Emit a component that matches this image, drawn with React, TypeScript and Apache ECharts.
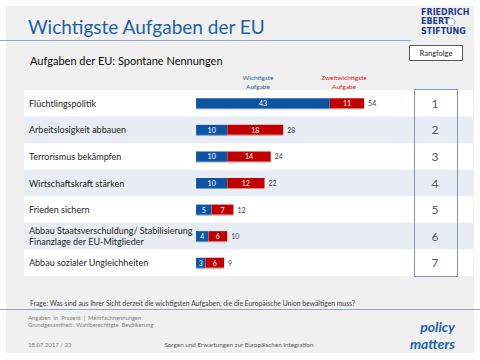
import React, { useEffect, useRef } from "react";
import * as echarts from "echarts";

const categories = [
  "Flüchtlingspolitik",
  "Arbeitslosigkeit abbauen",
  "Terrorismus bekämpfen",
  "Wirtschaftskraft stärken",
  "Frieden sichern",
  "Abbau Staatsverschuldung/ Stabilisierung\nFinanzlage der EU-Mitglieder",
  "Abbau sozialer Ungleichheiten",
];
const wichtigste = [43, 10, 10, 10, 5, 4, 3];
const zweitwichtigste = [11, 18, 14, 12, 7, 6, 6];
const gesamt = [54, 28, 24, 22, 12, 10, 9];
const rangfolge = ["1", "2", "3", "4", "5", "6", "7"];

const FONT = "Lato, 'Open Sans', sans-serif";
const LOGO_FONT = "'DejaVu Sans', sans-serif";

export default function App() {
  const ref = useRef<HTMLDivElement>(null);
  useEffect(() => {
    const chart = echarts.init(ref.current!, null, { renderer: "svg" });
    const blue = "#0f55a3";
    const red = "#c00000";
    chart.setOption({
      animation: false,
      textStyle: { fontFamily: FONT },
      grid: { left: 24, top: 90, width: 449, height: 186 },
      xAxis: { type: "value", min: -55.3, max: 89.0, show: false },
      yAxis: [
        {
          type: "category",
          data: categories,
          inverse: true,
          axisLine: { show: false },
          axisTick: { show: false },
          splitArea: { show: true, areaStyle: { color: ["#ffffff", "#e8edf5"] } },
          axisLabel: {
            align: "left",
            margin: -5,
            color: "#262626",
            fontSize: 9,
            lineHeight: 11,
            fontFamily: FONT,
          },
        },
        {
          type: "category",
          data: rangfolge,
          inverse: true,
          position: "right",
          axisLine: { show: false },
          axisTick: { show: false },
          axisLabel: {
            align: "center",
            margin: -38,
            color: "#595959",
            fontSize: 12,
            fontFamily: FONT,
          },
        },
      ],
      series: [
        {
          type: "bar",
          name: "Wichtigste Aufgabe",
          stack: "a",
          data: wichtigste,
          barWidth: 10,
          itemStyle: { color: blue, shadowColor: "#6f9ad3", shadowOffsetY: 1, shadowBlur: 0 },
          label: { show: true, position: "inside", color: "#ffffff", fontSize: 7, fontFamily: FONT },
          silent: true,
        },
        {
          type: "bar",
          name: "Zweitwichtigste Aufgabe",
          stack: "a",
          data: zweitwichtigste,
          barWidth: 10,
          itemStyle: { color: red, shadowColor: "#e58a8a", shadowOffsetY: 1, shadowBlur: 0 },
          label: { show: true, position: "inside", color: "#ffffff", fontSize: 7, fontFamily: FONT },
          silent: true,
        },
        {
          type: "bar",
          name: "Gesamt",
          data: gesamt,
          barWidth: 10,
          barGap: "-100%",
          itemStyle: { color: "rgba(0,0,0,0)" },
          label: { show: true, position: "right", distance: 4, color: "#404040", fontSize: 7, fontFamily: FONT },
          silent: true,
        },
      ],
      graphic: [
        // title
        {
          type: "text", left: 28, top: 17, z: 100,
          style: { text: "Wichtigste Aufgaben der EU", fill: "#1f5fa9", font: `19px ${FONT}` },
        },
        { type: "line", z: 100, shape: { x1: 0, y1: 40.5, x2: 411, y2: 40.5 }, style: { stroke: "#8ea4c8", lineWidth: 1 } },
        { type: "line", z: 100, shape: { x1: 0, y1: 309.5, x2: 480, y2: 309.5 }, style: { stroke: "#8ea4c8", lineWidth: 1 } },
        // FES logo
        {
          type: "text", left: 421, top: 8, z: 100,
          style: {
            text: "FRIEDRICH\nEBERT\nSTIFTUNG",
            fill: "#1b3d8f",
            font: `bold 8px ${LOGO_FONT}`,
            lineHeight: 9.3,
          },
        },
        {
          type: "circle", z: 99, shape: { cx: 451, cy: 22, r: 4 },
          style: { fill: "#ffffff", stroke: "#8fb0d8", lineWidth: 1 },
        },
        // subtitle
        {
          type: "text", left: 30, top: 55, z: 100,
          style: { text: "Aufgaben der EU: Spontane Nennungen", fill: "#0d0d0d", font: `11px ${FONT}` },
        },
        // Rangfolge button
        {
          type: "rect", z: 100, shape: { x: 409.5, y: 45.5, width: 53, height: 15 },
          style: { fill: "#ffffff", stroke: "#595959", lineWidth: 1 },
        },
        {
          type: "text", z: 101, x: 436, y: 53,
          style: { text: "Rangfolge", fill: "#262626", font: `7.5px ${FONT}`, align: "center", verticalAlign: "middle" },
        },
        // column headers
        {
          type: "text", z: 100, x: 258, y: 73,
          style: { text: "Wichtigste\nAufgabe", fill: "#2e5c9a", font: `6.5px ${FONT}`, align: "center", lineHeight: 9 },
        },
        {
          type: "text", z: 100, x: 344, y: 73,
          style: { text: "Zweitwichtigste\nAufgabe", fill: "#d22020", font: `6.5px ${FONT}`, align: "center", lineHeight: 9 },
        },
        // rank box
        {
          type: "rect", z: 100, shape: { x: 414.5, y: 89.5, width: 43, height: 187 },
          style: { fill: "none", stroke: "#7f97bd", lineWidth: 1 },
        },
        // footer
        {
          type: "text", z: 100, left: 30, top: 299,
          style: {
            text: "Frage: Was sind aus Ihrer Sicht derzeit die wichtigsten Aufgaben, die die Europäische Union bewältigen muss?",
            fill: "#404040", font: `6.8px ${FONT}`,
          },
        },
        {
          type: "text", z: 100, left: 28, top: 314,
          style: {
            text: "Angaben  in  Prozent  |  Mehrfachnennungen\nGrundgesamtheit:  Wahlberechtigte  Bevölkerung",
            fill: "#7f7f7f", font: `5.8px ${FONT}`, lineHeight: 7,
          },
        },
        {
          type: "text", z: 100, left: 28, top: 341,
          style: { text: "18.07.2017 / 23", fill: "#7f7f7f", font: `6px ${FONT}` },
        },
        {
          type: "text", z: 100, x: 239, y: 341,
          style: { text: "Sorgen und Erwartungen zur Europäischen Integration", fill: "#595959", font: `6.3px ${FONT}`, align: "center" },
        },
        {
          type: "text", z: 100, x: 455, y: 318,
          style: {
            text: "policy\nmatters",
            fill: "#1f5fb4",
            font: `italic bold 14px ${FONT}`,
            align: "right",
            lineHeight: 17,
          },
        },
      ],
    });
    return () => chart.dispose();
  }, []);

  return (
    <div style={{ position: "fixed", left: 0, top: 0, width: 480, height: 360, background: "#ffffff" }}>
      <div style={{ position: "absolute", left: 6, top: 6, width: 468, height: 347, background: "#f0f0f0" }} />
      <div ref={ref} style={{ position: "absolute", left: 0, top: 0, width: 480, height: 360 }} />
    </div>
  );
}
